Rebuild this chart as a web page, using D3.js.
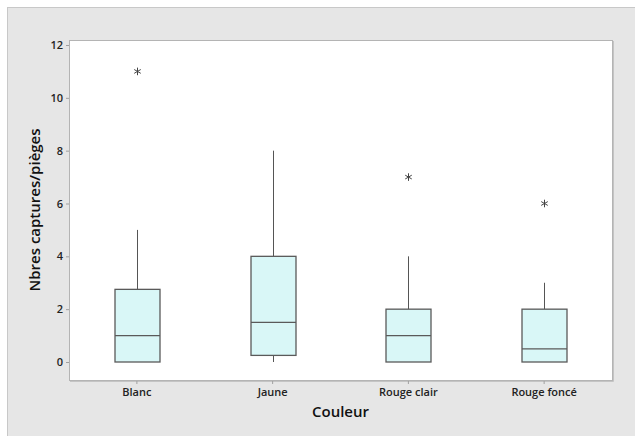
<!DOCTYPE html>
<html><head><meta charset="utf-8">
<script src="https://cdn.jsdelivr.net/npm/d3@7"></script>
<style>
body{margin:0;background:#fff;}
text{font-family:"Open Sans","Noto Sans",sans-serif;}
</style></head>
<body><svg id="c" width="635" height="436"></svg>
<script>
const categories = ["Blanc","Jaune","Rouge clair","Rouge foncé"];
const whiskerLow = [0, 0, 0, 0];
const q1 = [0, 0.25, 0, 0];
const median = [1, 1.5, 1, 0.5];
const q3 = [2.75, 4, 2, 2];
const whiskerHigh = [5, 8, 4, 3];
const outliers = [[11], [], [7], [6]];
const yTicks = [0, 2, 4, 6, 8, 10, 12];

const svg = d3.select("#c");
const W = 635, H = 436;
const plot = {left: 69, right: 612, top: 40, bottom: 380};

// outer grey panel
svg.append("rect").attr("x", 7.5).attr("y", 7.5).attr("width", W).attr("height", H)
  .attr("fill", "#e6e6e6").attr("stroke", "#c8c8c8").attr("stroke-width", 1);

// plot area
svg.append("rect").attr("x", plot.left + 0.5).attr("y", plot.top + 0.5)
  .attr("width", plot.right - plot.left).attr("height", plot.bottom - plot.top)
  .attr("fill", "#ffffff").attr("stroke", "#b4b4b4").attr("stroke-width", 1);
// shadow right/bottom
svg.append("path")
  .attr("d", `M${plot.right + 1.5},${plot.top + 1}V${plot.bottom + 1.5}H${plot.left + 1}`)
  .attr("fill", "none").attr("stroke", "#c4c4c4").attr("stroke-width", 1);

const x = d3.scaleBand().domain(categories).range([plot.left, plot.right]).padding(0);
const y = d3.scaleLinear().domain([0, 12]).range([362, 45]);

// y axis
const yAxis = svg.append("g").attr("transform", `translate(${plot.left},0)`)
  .call(d3.axisLeft(y).tickValues(yTicks).tickSize(3).tickPadding(3));
yAxis.select(".domain").remove();
yAxis.selectAll(".tick line").attr("stroke", "#a0a0a0");
yAxis.selectAll(".tick text").attr("font-size", 11).attr("font-weight", 600).attr("fill", "#222")
  .attr("font-family", "'Open Sans','Noto Sans',sans-serif");

// x axis
const xAxis = svg.append("g").attr("transform", `translate(0,${plot.bottom + 1})`)
  .call(d3.axisBottom(x).tickSize(3).tickPadding(4));
xAxis.select(".domain").remove();
xAxis.selectAll(".tick line").attr("stroke", "#a0a0a0");
xAxis.selectAll(".tick text").attr("font-size", 11).attr("font-weight", 600).attr("fill", "#222")
  .attr("font-family", "'Open Sans','Noto Sans',sans-serif");

// axis titles
svg.append("text").attr("x", (plot.left + plot.right) / 2).attr("y", 417)
  .attr("text-anchor", "middle").attr("font-size", 15).attr("font-weight", 600).attr("fill", "#111")
  .text("Couleur");
svg.append("text").attr("transform", `translate(40,${(plot.top + plot.bottom) / 2}) rotate(-90)`)
  .attr("text-anchor", "middle").attr("font-size", 15).attr("font-weight", 600).attr("fill", "#111")
  .text("Nbres captures/pièges");

// boxes
const boxW = 45;
const g = svg.append("g");
categories.forEach((c, i) => {
  const cx = Math.round(x(c) + x.bandwidth() / 2) + 0.5;
  // upper whisker
  g.append("line").attr("x1", cx).attr("x2", cx).attr("y1", y(q3[i])).attr("y2", y(whiskerHigh[i]))
    .attr("stroke", "#555").attr("stroke-width", 1);
  // lower whisker
  g.append("line").attr("x1", cx).attr("x2", cx).attr("y1", y(q1[i])).attr("y2", y(whiskerLow[i]))
    .attr("stroke", "#555").attr("stroke-width", 1);
  g.append("rect").attr("x", cx - boxW / 2).attr("y", y(q3[i]))
    .attr("width", boxW).attr("height", y(q1[i]) - y(q3[i]))
    .attr("fill", "#d9f7f7").attr("stroke", "#5a5a5a").attr("stroke-width", 1.3);
  g.append("line").attr("x1", cx - boxW / 2).attr("x2", cx + boxW / 2)
    .attr("y1", y(median[i])).attr("y2", y(median[i]))
    .attr("stroke", "#5a5a5a").attr("stroke-width", 1.3);
  outliers[i].forEach(v => {
    g.append("path").attr("transform", `translate(${cx},${y(v)})`)
      .attr("d", d3.symbol(d3.symbolAsterisk, 40)())
      .attr("fill", "none").attr("stroke", "#444").attr("stroke-width", 1);
  });
});
</script></body></html>
